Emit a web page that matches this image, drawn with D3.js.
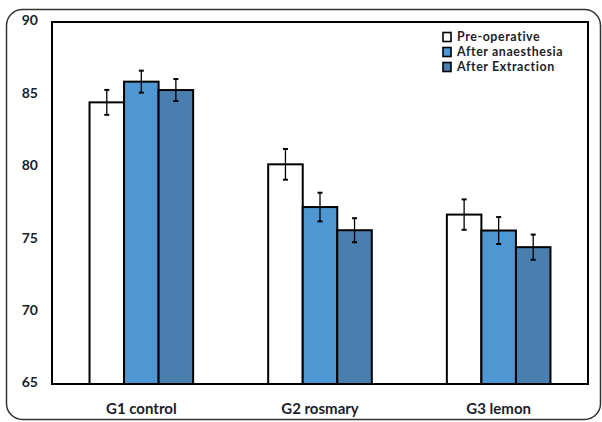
<!DOCTYPE html>
<html><head><meta charset="utf-8">
<script src="https://cdn.jsdelivr.net/npm/d3@7"></script>
<style>body{margin:0;background:#fff}svg{display:block}</style>
</head><body>
<svg id="c" width="602" height="422"></svg>
<script>
const categories = ["G1 control", "G2 rosmary", "G3 lemon"];
const seriesNames = ["Pre-operative", "After anaesthesia", "After Extraction"];
const preOperative = [84.45, 80.17, 76.7];
const afterAnaesthesia = [85.88, 77.22, 75.6];
const afterExtraction = [85.3, 75.62, 74.45];
const errPreOperative = [0.86, 1.06, 1.05];
const errAfterAnaesthesia = [0.76, 0.99, 0.93];
const errAfterExtraction = [0.76, 0.83, 0.87];
const yTicks = [65, 70, 75, 80, 85, 90];
const colors = ["#ffffff", "#4E97D3", "#4A7EAE"];

const values = [preOperative, afterAnaesthesia, afterExtraction];
const errs = [errPreOperative, errAfterAnaesthesia, errAfterExtraction];

const svg = d3.select("#c");
const L = 52, R = 588, T = 22, B = 384;
const font = "Lato, 'Open Sans', sans-serif";

svg.append("rect").attr("x", 6.5).attr("y", 9.5).attr("width", 594).attr("height", 410)
  .attr("rx", 16).attr("fill", "none").attr("stroke", "#333").attr("stroke-width", 1.5);

const y = d3.scaleLinear().domain([65, 90]).range([B, T]);
const x0 = d3.scaleBand().domain(categories).range([L, R]).paddingInner(0.42).paddingOuter(0.21);
const x1 = d3.scaleBand().domain(seriesNames).range([0, x0.bandwidth()]);

// plot frame
svg.append("rect").attr("x", L).attr("y", T).attr("width", R - L).attr("height", B - T)
  .attr("fill", "none").attr("stroke", "#000").attr("stroke-width", 2);

// y axis
const yAxis = svg.append("g").attr("transform", `translate(${L},0)`)
  .call(d3.axisLeft(y).tickValues(yTicks).tickSize(0).tickPadding(14));
yAxis.select(".domain").remove();
yAxis.selectAll("text").attr("font-family", font).attr("font-weight", "bold")
  .attr("font-size", 14).attr("fill", "#1d1d2b").attr("dy", "0.2em");

// x axis
const xAxis = svg.append("g").attr("transform", `translate(0,${B})`)
  .call(d3.axisBottom(x0).tickSize(0).tickPadding(19));
xAxis.select(".domain").remove();
xAxis.selectAll("text").attr("font-family", font).attr("font-weight", "bold")
  .attr("font-size", 15).attr("fill", "#1d1d2b");

// bars
const groups = svg.selectAll("g.grp").data(categories).enter().append("g")
  .attr("class", "grp").attr("transform", d => `translate(${x0(d)},0)`);
seriesNames.forEach((s, si) => {
  groups.append("rect")
    .attr("x", (d) => x1(s))
    .attr("y", (d, i) => y(values[si][i]))
    .attr("width", x1.bandwidth())
    .attr("height", (d, i) => B - y(values[si][i]))
    .attr("fill", colors[si]).attr("stroke", "#000").attr("stroke-width", 2);
});
seriesNames.forEach((s, si) => {
  const cx = x1(s) + x1.bandwidth() / 2;
  groups.append("line")
    .attr("x1", cx).attr("x2", cx)
    .attr("y1", (d, i) => y(values[si][i] + errs[si][i]))
    .attr("y2", (d, i) => y(values[si][i] - errs[si][i]))
    .attr("stroke", "#000").attr("stroke-width", 1.3);
  [1, -1].forEach(sg => {
    groups.append("line")
      .attr("x1", cx - 2.5).attr("x2", cx + 2.5)
      .attr("y1", (d, i) => y(values[si][i] + sg * errs[si][i]))
      .attr("y2", (d, i) => y(values[si][i] + sg * errs[si][i]))
      .attr("stroke", "#000").attr("stroke-width", 2);
  });
});

// legend
const lg = svg.append("g").attr("transform", "translate(443,37)");
seriesNames.forEach((s, i) => {
  const row = lg.append("g").attr("transform", `translate(0,${i * 15})`);
  row.append("rect").attr("x", 0).attr("y", -4.5).attr("width", 8).attr("height", 9)
    .attr("fill", colors[i]).attr("stroke", "#000").attr("stroke-width", 1.6);
  row.append("text").attr("x", 14).attr("y", 0).attr("dy", "0.36em")
    .attr("font-family", font).attr("font-weight", "bold").attr("font-size", 12.4)
    .attr("letter-spacing", 0.6)
    .attr("fill", "#1d1d2b").text(s);
});
</script>
</body></html>
